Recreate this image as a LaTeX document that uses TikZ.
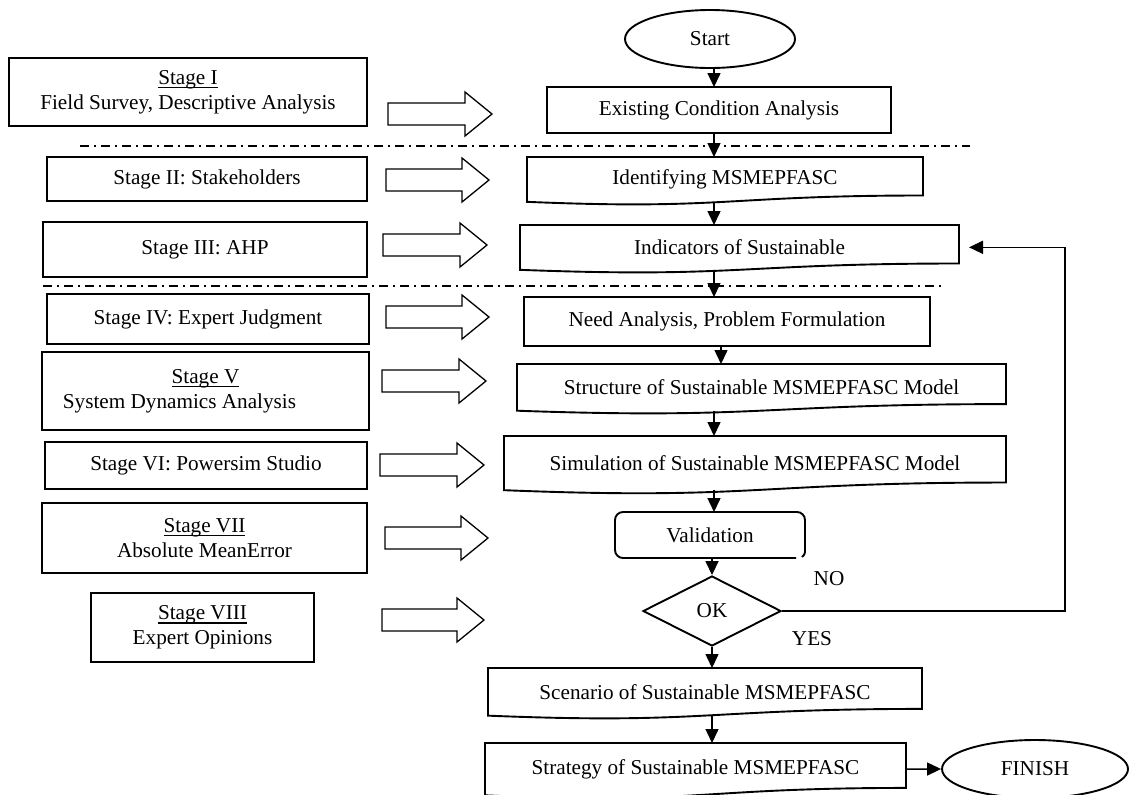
\documentclass[tikz,border=0pt]{standalone}
\usepackage{fontspec}
\setmainfont{Liberation Serif}
\usetikzlibrary{arrows.meta,shapes.geometric}

% thin underline set just below the baseline
\newcommand\stageul[1]{\setbox0\hbox{#1}\rlap{\vrule height -1.3pt depth 1.9pt width \wd0}\box0}

\tikzset{
  outline/.style={draw, line width=0.95pt},
  stagebox/.style={outline, rectangle, inner sep=0pt, outer sep=0pt, align=center},
  textonly/.style={rectangle, inner sep=0pt, outer sep=0pt, align=center},
  blockline/.style={draw, line width=0.65pt, line join=miter},
  flow/.style={line width=0.75pt, -{Triangle[width=6.5pt,length=7pt]}},
  divider/.style={line width=0.7pt, dash pattern=on 4.5pt off 2.5pt on 1pt off 2.5pt},
  lbl/.style={inner sep=0pt},
}

% rectangle node from its corner values: style, name, x1, x2, y1, y2, text
\newcommand\framedbox[7]{%
  \node[#1, minimum width={(#4-#3)*0.5pt}, minimum height={(#6-#5)*0.5pt}]
    (#2) at ({(#3+#4)/2},{(#5+#6)/2}) {#7};}

% document-style box with a wavy bottom: name, x1, x2, top, height, text
\newcommand\docbox[6]{%
  \draw[outline] (#2,#4) -- (#3,#4) -- (#3,{#4+0.802*#5})
    .. controls ({(#2+#3)/2},{#4+0.802*#5}) and ({(#2+#3)/2},{#4+1.107*#5}) ..
    (#2,{#4+0.934*#5}) -- cycle;
  \node[textonly, minimum width={(#3-#2)*0.5pt}, minimum height={0.93*#5*0.5pt}]
    (#1) at ({(#2+#3)/2},{#4+0.465*#5}) {#6};}

% hollow block arrow: left end, tip, centre line
\newcommand\blockarrow[3]{%
  \draw[blockline] (#1,{#3-11}) -- ({#2-27},{#3-11}) -- ({#2-27},{#3-22})
    -- (#2,#3) -- ({#2-27},{#3+22}) -- ({#2-27},{#3+11}) -- (#1,{#3+11}) -- cycle;}

\begin{document}
\begin{tikzpicture}[x=0.5pt, y=-0.5pt, font=\fontsize{10.6pt}{12.5pt}\selectfont]
\useasboundingbox (0,0) rectangle (1129,794);

% ---- stage column ----
\framedbox{stagebox}{s1}{9}{367}{58}{126}{\stageul{Stage I}\\Field Survey, Descriptive Analysis}
\framedbox{stagebox}{s2}{47}{367}{157}{201}{Stage II: Stakeholders}
\framedbox{stagebox}{s3}{43}{367}{222}{277}{Stage III: AHP}
\framedbox{stagebox}{s4}{47}{369}{294}{344}{Stage IV: Expert Judgment}
\framedbox{stagebox}{s5}{42}{369}{352}{430}{\stageul{Stage V}\\System Dynamics Analysis\hspace*{26pt}}
\framedbox{stagebox}{s6}{45}{367}{442}{489}{Stage VI: Powersim Studio}
\framedbox{stagebox}{s7}{42}{367}{503}{573}{\stageul{Stage VII}\\Absolute MeanError}
\framedbox{stagebox}{s8}{91}{314}{593}{662}{\stageul{Stage VIII}\\Expert Opinions}

% ---- block arrows ----
\blockarrow{388}{492}{114}
\blockarrow{386}{489}{180}
\blockarrow{383}{487}{245}
\blockarrow{386}{489}{317}
\blockarrow{382}{486}{381}
\blockarrow{380}{484}{465}
\blockarrow{385}{488}{538}
\blockarrow{382}{484}{620}

% ---- dividers ----
\draw[divider] (80,146) -- (970,146);
\draw[divider] (43,286) -- (945,286);

% ---- process column ----
\node[ellipse, draw, line width=0.95pt, minimum width=85pt, minimum height=29pt, inner sep=0pt]
  (start) at (710,39) {Start};
\framedbox{stagebox}{exist}{547}{891}{87}{133}{Existing Condition Analysis}
\docbox{ident}{527}{923}{157}{48}{Identifying MSMEPFASC}
\docbox{indic}{520}{959}{225}{48}{Indicators of Sustainable}
\framedbox{stagebox}{need}{524}{930}{297}{346}{Need Analysis, Problem Formulation}
\docbox{struct}{517}{1006}{364}{50}{Structure of Sustainable MSMEPFASC Model}
\docbox{simul}{504}{1006}{436}{58}{Simulation of Sustainable MSMEPFASC Model}

% validation box, open at its lower right corner
\draw[outline, rounded corners=4pt] (796,558) -- (615,558) -- (615,512) -- (805,512) -- (805,548);
\draw[outline] (805,548) .. controls (805,554) .. (802,557);
\framedbox{textonly}{valid}{615}{805}{512}{558}{Validation}

\node[diamond, draw, line width=0.95pt, minimum width=69pt, minimum height=35pt, inner sep=0pt]
  (ok) at (712,611) {OK};
\docbox{scen}{488}{922}{668}{51}{Scenario of Sustainable MSMEPFASC}
\docbox{strat}{485}{906}{743}{56}{Strategy of Sustainable MSMEPFASC}
\node[ellipse, draw, line width=0.95pt, minimum width=93pt, minimum height=29pt, inner sep=0pt]
  (finish) at (1035,769) {FINISH};

\node[lbl] (no) at (829,579) {NO};
\node[lbl] (yes) at (812,639) {YES};

% ---- connectors ----
\coordinate (spine) at (714,0);
\coordinate (spineb) at (721,0);
\coordinate (loop) at (1065,611);
\draw[flow] (start.south -| spine) -- (exist.north -| spine);
\draw[flow] (exist.south -| spine) -- (ident.north -| spine);
\draw[flow] (ident.south -| spine) -- (indic.north -| spine);
\draw[flow] (indic.south -| spine) -- (need.north -| spine);
\draw[flow] (need.south -| spineb) -- (struct.north -| spineb);
\draw[flow] (struct.south -| spine) -- (simul.north -| spine);
\draw[flow] (simul.south -| spine) -- (valid.north -| spine);
\draw[flow] (valid.south -| ok.north) -- (ok.north);
\draw[flow] (ok.south) -- (scen.north -| ok.south);
\draw[flow] (scen.south -| ok.south) -- (strat.north -| ok.south);
\draw[flow] (strat.east) -- (finish.west);
\draw[flow, shorten >=5pt] (ok.east) -- (loop) |- (indic.east);
\end{tikzpicture}
\end{document}
